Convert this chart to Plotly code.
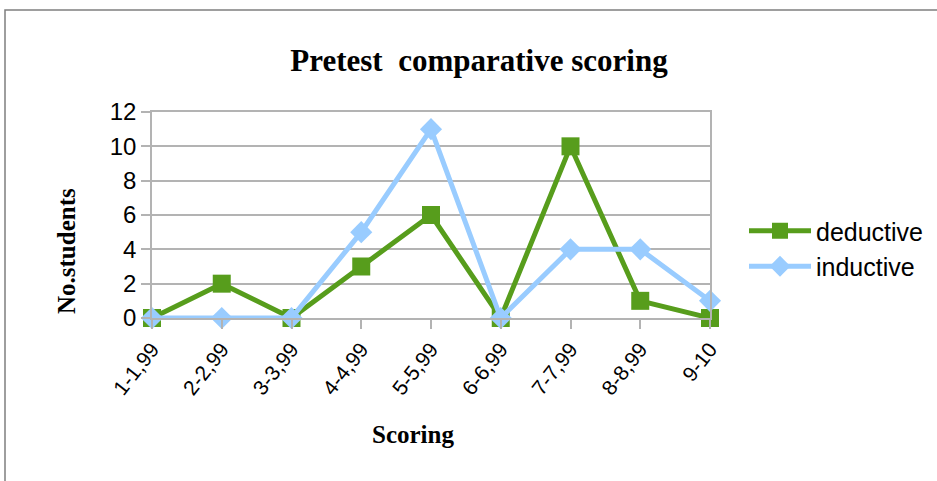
import plotly.graph_objects as go

categories = ["1-1,99", "2-2,99", "3-3,99", "4-4,99", "5-5,99", "6-6,99", "7-7,99", "8-8,99", "9-10"]
deductive = [0, 2, 0, 3, 6, 0, 10, 1, 0]
inductive = [0, 0, 0, 5, 11, 0, 4, 4, 1]
y_ticks = [0, 2, 4, 6, 8, 10, 12]

GREEN = "#579d1c"
BLUE = "#99ccff"

fig = go.Figure()
fig.add_trace(go.Scatter(
    x=categories, y=deductive, name="deductive", mode="lines+markers",
    line=dict(color=GREEN, width=5),
    marker=dict(symbol="square", size=18, color=GREEN),
    cliponaxis=False,
))
fig.add_trace(go.Scatter(
    x=categories, y=inductive, name="inductive", mode="lines+markers",
    line=dict(color=BLUE, width=5),
    marker=dict(symbol="diamond", size=17, color=BLUE),
    cliponaxis=False,
))

L, R, T, B = 152, 710, 112, 318
W, H = 937, 481
pw, ph = R - L, B - T

def px_x(p):
    return (p - L) / pw

def px_y(p):
    return (B - p) / ph

fig.update_layout(
    width=W, height=H, autosize=False,
    margin=dict(l=L, r=W - R, t=T, b=H - B, pad=0, autoexpand=False),
    paper_bgcolor="white", plot_bgcolor="white",
    title=dict(text="<b>Pretest  comparative scoring</b>", x=px_x(479), xanchor="center",
               xref="paper", y=1 - 60 / H, yanchor="middle",
               font=dict(family="Liberation Serif", size=31, color="black")),
    font=dict(family="Liberation Sans", color="black"),
    showlegend=True,
    legend=dict(x=px_x(744), y=px_y(208), xanchor="left", yanchor="top",
                font=dict(size=25, family="Liberation Sans", color="black"),
                itemwidth=62, tracegroupgap=0, bgcolor="rgba(0,0,0,0)"),
    xaxis=dict(
        type="category", range=[0, len(categories) - 1],
        showgrid=False, showline=True, linecolor="#b3b3b3", linewidth=1.5, mirror=True,
        ticks="outside", ticklen=9, tickcolor="#b3b3b3", tickwidth=1.5,
        tickangle=-52, tickfont=dict(size=21, family="Liberation Sans", color="black"),
    ),
    yaxis=dict(
        range=[0, 12], tickvals=y_ticks, showgrid=True, gridcolor="#b3b3b3", gridwidth=1.5,
        showline=True, linecolor="#b3b3b3", linewidth=1.5, mirror=True,
        ticks="outside", ticklen=9, tickcolor="#b3b3b3", tickwidth=1.5,
        tickfont=dict(size=24, family="Liberation Sans", color="black"),
        zeroline=False,
    ),
    annotations=[
        dict(text="<b>Scoring</b>", xref="paper", yref="paper", x=px_x(413), y=px_y(434),
             xanchor="center", yanchor="middle", showarrow=False,
             font=dict(family="Liberation Serif", size=25, color="black")),
        dict(text="<b>No.students</b>", xref="paper", yref="paper", x=px_x(67), y=px_y(251),
             xanchor="center", yanchor="middle", showarrow=False, textangle=-90,
             font=dict(family="Liberation Serif", size=25, color="black")),
    ],
    shapes=[dict(type="rect", xref="paper", yref="paper",
                 x0=px_x(5), x1=px_x(960), y0=px_y(500), y1=px_y(10),
                 line=dict(color="#7f7f7f", width=1.5), fillcolor="rgba(0,0,0,0)", layer="below")],
)

fig.write_html("out.html", config={"displayModeBar": False},
               post_script="document.body.style.margin='0px';")
